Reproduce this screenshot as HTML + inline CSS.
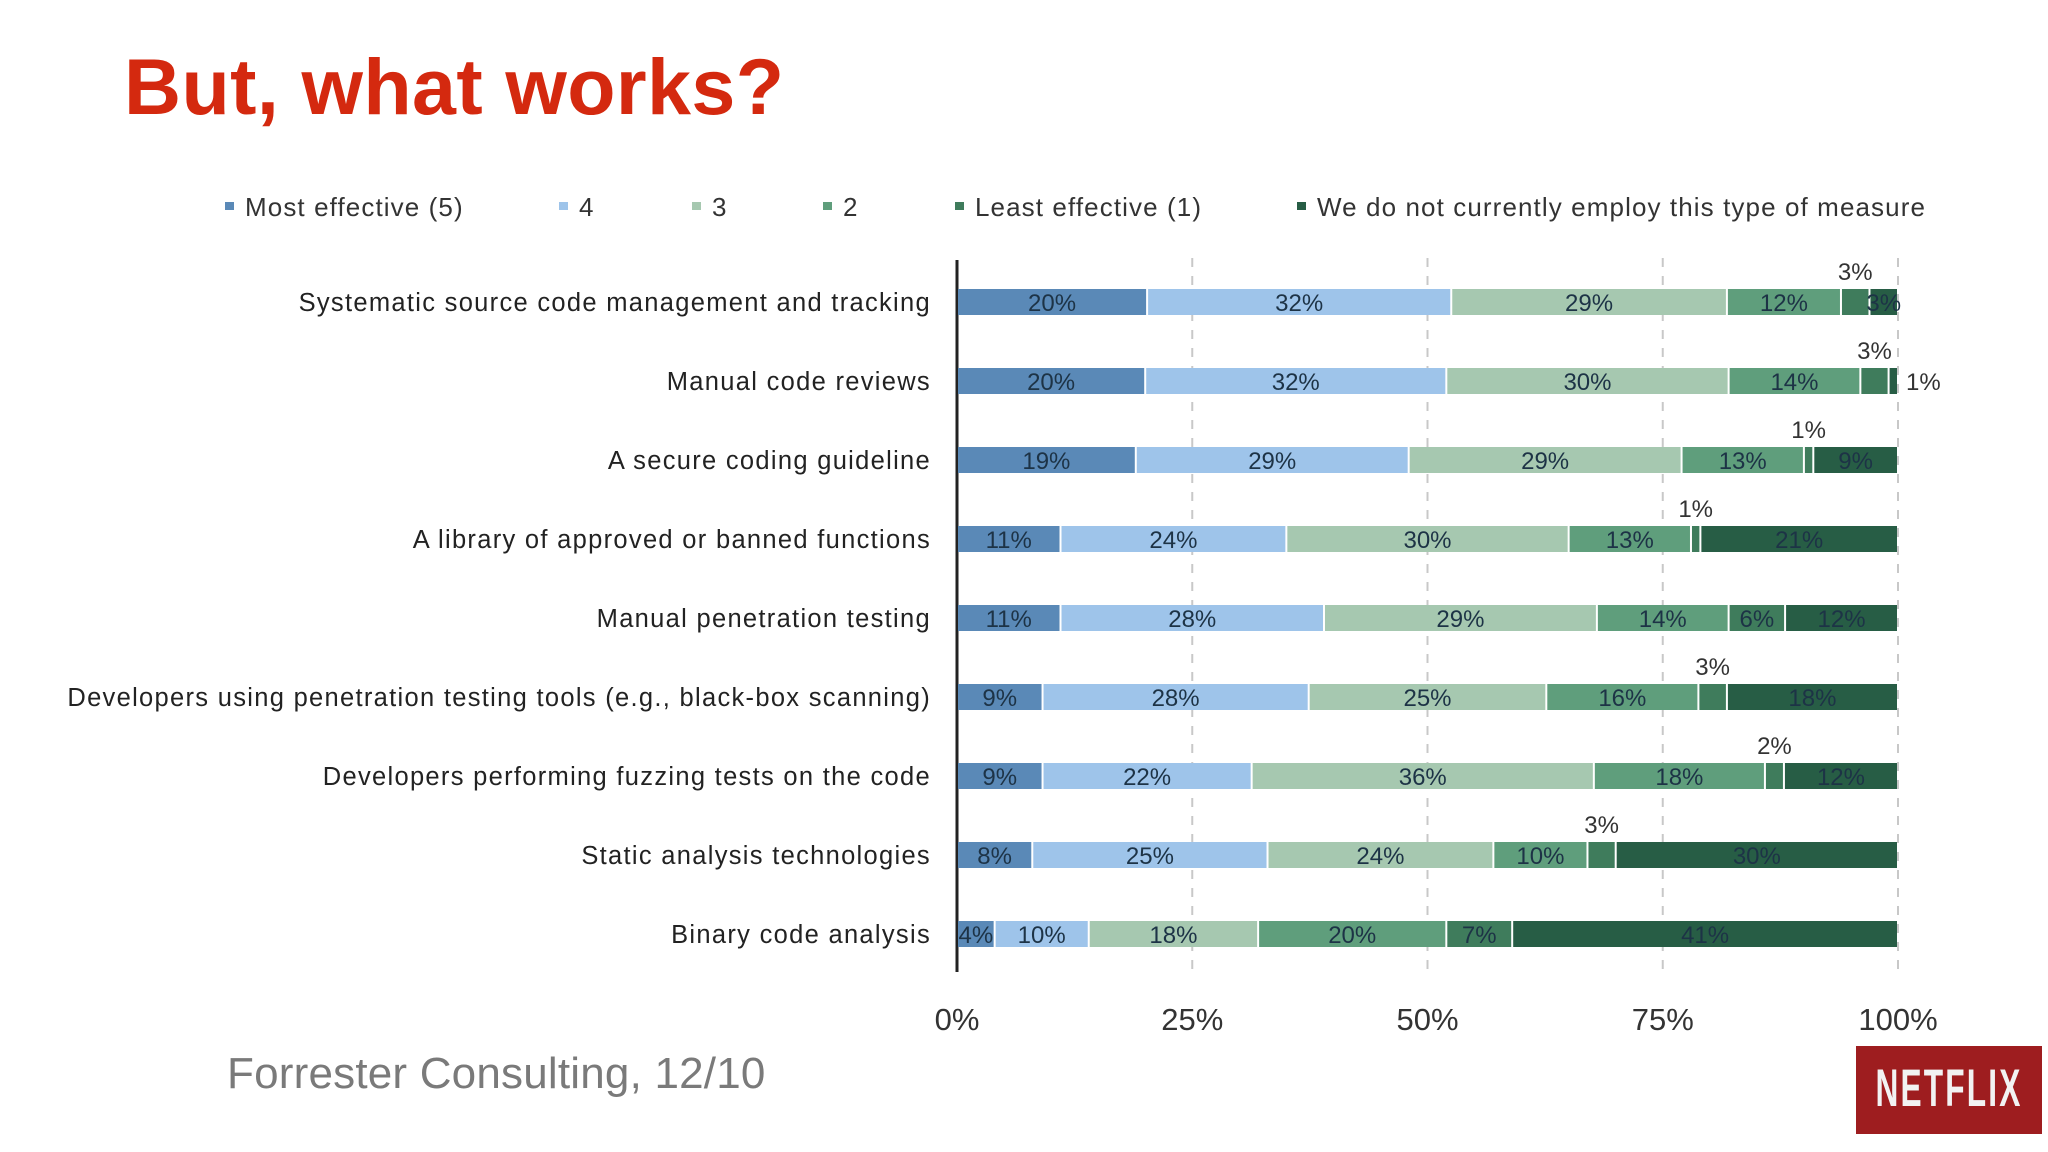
<!DOCTYPE html>
<html><head><meta charset="utf-8"><style>
body{margin:0;width:2048px;height:1152px;background:#fff;overflow:hidden;font-family:"Liberation Sans",sans-serif;}
svg{position:absolute;left:0;top:0}
</style></head><body>
<svg id="chart" width="2048" height="1152" xmlns="http://www.w3.org/2000/svg">
<text x="124" y="114" font-size="79" font-weight="bold" fill="#d4290f" letter-spacing="0.4" font-family="Liberation Sans, sans-serif">But, what works?</text>
<text x="227" y="1088" font-size="44" fill="#7a7a7a" letter-spacing="0.2" font-family="Liberation Sans, sans-serif">Forrester Consulting, 12/10</text>
<g>
<rect x="1856" y="1046" width="186" height="88" fill="#9e1d1f"/>
<text x="1949" y="1106" text-anchor="middle" font-size="44" font-weight="bold" fill="#f2f2f2" font-family="Liberation Sans, sans-serif" transform="translate(1949 1106) scale(0.72 1.2) translate(-1949 -1106)" letter-spacing="3">NETFLIX</text>
</g>
<g id="legend"></g><g id="grid"></g><g id="bars"></g><g id="labels"></g>
</svg>
<script>
const categories=["Systematic source code management  and  tracking","Manual code reviews","A secure coding guideline","A library of approved or banned functions","Manual penetration testing","Developers using penetration testing tools (e.g., black-box scanning)","Developers performing fuzzing tests on the code","Static analysis technologies","Binary code analysis"];
const seriesNames=["Most effective (5)","4","3","2","Least effective (1)","We do not currently employ this type of measure"];
const mostEffective=[20,20,19,11,11,9,9,8,4];
const rating4=[32,32,29,24,28,28,22,25,10];
const rating3=[29,30,29,30,29,25,36,24,18];
const rating2=[12,14,13,13,14,16,18,10,20];
const leastEffective=[3,3,1,1,6,3,2,3,7];
const notEmployed=[3,1,9,21,12,18,12,30,41];
const tickLabels=["0%","25%","50%","75%","100%"];
const tickValues=[0,25,50,75,100];
const series=[mostEffective,rating4,rating3,rating2,leastEffective,notEmployed];
const colors=["#5a89b7","#9ec4ea","#a6c8b0","#5f9e7c","#3f7c5c","#275d45"];
const legendX=[225,559,692,823,955,1297];
const NS="http://www.w3.org/2000/svg";
const x0=957,x1=1898,yTop=302,step=79,barH=26;
const xs=v=>x0+(x1-x0)*v/100;
const ys=i=>yTop+i*step;
function mk(t,a,p){const e=document.createElementNS(NS,t);for(const k in a)e.setAttribute(k,a[k]);p.appendChild(e);return e;}
const leg=document.getElementById('legend'),grid=document.getElementById('grid'),bars=document.getElementById('bars'),labs=document.getElementById('labels');
seriesNames.forEach((n,i)=>{
 const r=mk('rect',{x:legendX[i],y:202,width:9,height:8,fill:colors[i]},leg);
 
 
 const t=mk('text',{x:legendX[i]+20,y:216,'font-size':26,fill:'#333','letter-spacing':1.1},leg);
 
 
 t.textContent=n;
});
tickValues.forEach((v,i)=>{
 if(v>0){const l=mk('line',{x1:xs(v),x2:xs(v),y1:258,y2:972,stroke:'#c8c8c8','stroke-width':2,'stroke-dasharray':'9 9'},grid);
 
 }
 const t=mk('text',{x:xs(v),y:1030,'text-anchor':'middle','font-size':31,fill:'#333'},grid);
 
 
 t.textContent=tickLabels[i];
});
const ax=mk('line',{x1:x0,x2:x0,y1:260,y2:972,stroke:'#222','stroke-width':3},grid);


categories.forEach((c,i)=>{
 const y=ys(i);
 const t=mk('text',{x:931,y:y+9,'text-anchor':'end','font-size':25.5,fill:'#222','letter-spacing':1.3},labs);
 
 
 t.textContent=c;
 let sum=0;series.forEach(s=>sum+=s[i]);
 let acc=0;
 series.forEach((s,k)=>{
  const v=s[i];const a=xs(acc/sum*100),b=xs((acc+v)/sum*100);acc+=v;
  const r=mk('rect',{x:a+1,y:y-barH/2,width:Math.max(b-a-2,1),height:barH,fill:colors[k]},bars);
  
  
  const last=k===series.length-1;
  let lx=(a+b)/2,ly=y+9,anchor='middle';
  if(v<=3&&!last){ly=y-22;}
  else if(last&&v<=1){lx=b+8;anchor='start';}
  const lt=mk('text',{x:lx,y:ly,'text-anchor':anchor,'font-size':24,fill:(v<=3&&!last)||(last&&v<=1)?'#333':'#1d3346'},labs);
  
  
  lt.textContent=v+'%';
 });
});
</script>
</body></html>
